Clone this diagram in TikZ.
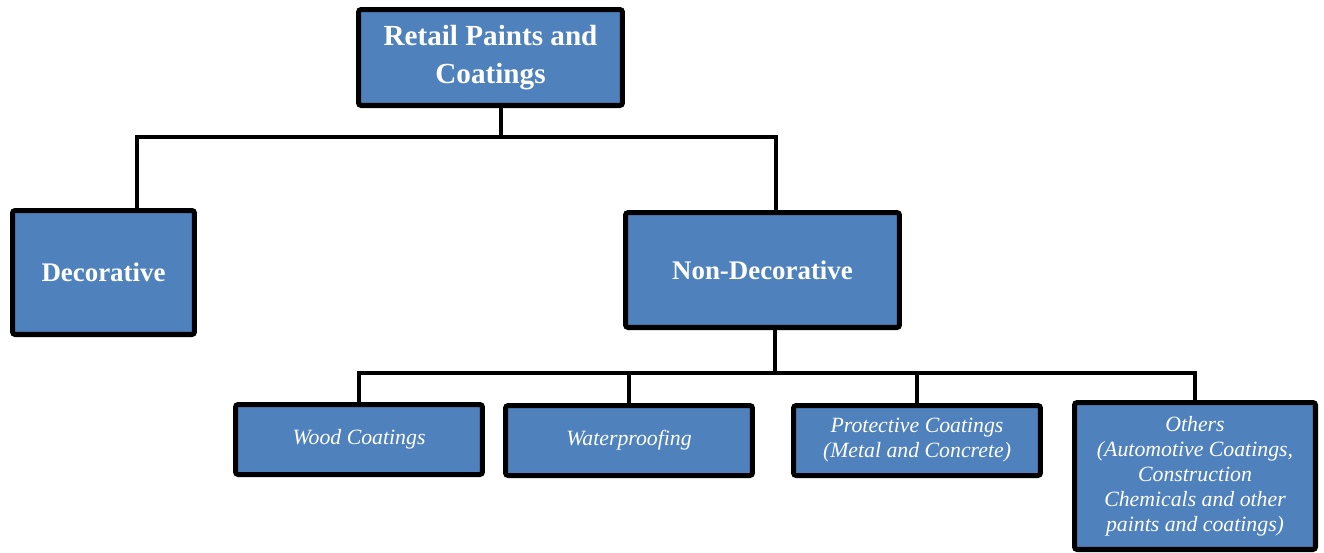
\documentclass[tikz,border=0pt]{standalone}
\usepackage{fontspec}
\setmainfont{Liberation Serif}
\usepackage{tikz}
\definecolor{boxblue}{HTML}{4F81BD}

\begin{document}
\begin{tikzpicture}[x=0.02cm,y=-0.02cm,
    box/.style={draw=black,line width=2.85pt,fill=boxblue,rounded corners=1.5pt,
      text=white,align=center,inner sep=0pt},
    head/.style={box,font=\fontsize{16.6}{21.2}\selectfont\bfseries},
    mid/.style={box,font=\fontsize{15.3}{19}\selectfont\bfseries},
    leaf/.style={box,font=\fontsize{12.4}{14.2}\selectfont\itshape,
      minimum width=4.94cm,minimum height=1.4cm},
    link/.style={line width=1.8pt,black}]
    \useasboundingbox (0,0) rectangle (1324,552);

    \node[head,minimum width=5.28cm,minimum height=1.92cm] (1) at (490.5,57.5) {Retail Paints and\\Coatings};
    \node[mid,minimum width=3.64cm,minimum height=2.48cm] (2) at (103.5,272.5) {Decorative};
    \node[mid,minimum width=5.48cm,minimum height=2.30cm] (3) at (762.5,270) {Non-Decorative};
    \node[leaf] (4) at (359,439.5) {Wood Coatings};
    \node[leaf] (5) at (629,440.5) {Waterproofing};
    \node[leaf] (6) at (917,440.5) {Protective Coatings\\(Metal and Concrete)};
    \node[leaf,minimum width=4.82cm,minimum height=2.94cm] (7) at (1195,476) {Others\\(Automotive Coatings,\\Construction\\Chemicals and other\\paints and coatings)};

    % first level
    \coordinate (a) at (501,137);
    \coordinate (d) at (137,137);
    \coordinate (n) at (776,137);
    \draw[link] (1.south -| a) -- (a);
    \draw[link] (2.north -| d) -- (d) -- (n) -- (3.north -| n);

    % second level
    \coordinate (b) at (775,373);
    \draw[link] (3.south -| b) -- (b);
    \draw[link] (4.north) -- (4.north |- b) -- (7.north |- b) -- (7.north);
    \draw[link] (5.north) -- (5.north |- b);
    \draw[link] (6.north) -- (6.north |- b);

\end{tikzpicture}
\end{document}
